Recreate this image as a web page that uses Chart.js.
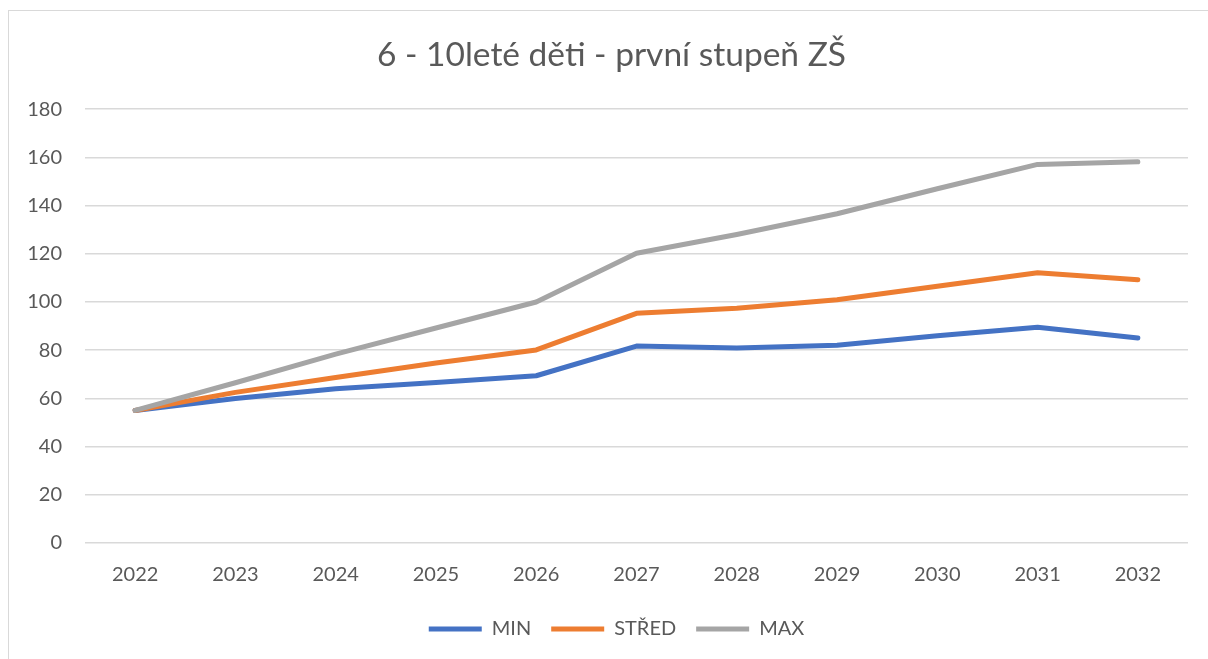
<!DOCTYPE html>
<html>
<head>
<meta charset="utf-8">
<script src="https://cdn.jsdelivr.net/npm/chart.js@4"></script>
<style>
    html, body { margin: 0; padding: 0; background: #fff; }
    body { width: 1208px; height: 659px; overflow: hidden; position: relative; }
    #frame {
        position: absolute; left: 8px; top: 10px; width: 1200px; height: 649px;
        border-top: 1px solid #d9d9d9; border-left: 1px solid #d9d9d9;
    }
    #wrap { position: absolute; left: 0; top: 0; width: 1199px; height: 648px; }
</style>
</head>
<body>
<div id="frame"><div id="wrap"><canvas id="LineChart"></canvas></div></div>
<script>
var years = ['2022', '2023', '2024', '2025', '2026', '2027', '2028', '2029', '2030', '2031', '2032'];
var minValues = [55, 60, 64, 66.6, 69.4, 81.7, 80.9, 82.1, 86, 89.5, 85.1];
var midValues = [55, 62.5, 68.7, 74.7, 80.1, 95.3, 97.4, 100.9, 106.5, 112.1, 109.2];
var maxValues = [55, 66.5, 78.4, 89.2, 100, 120.2, 128, 136.6, 147, 157.1, 158.2];
var chartTitle = '6 - 10leté děti - první stupeň ZŠ';

var textColor = '#595959';
var font = 'Lato, "Open Sans", sans-serif';

function series(label, data, color, order) {
    return {
        label: label,
        data: data,
        borderColor: color,
        backgroundColor: color,
        borderWidth: 5,
        borderCapStyle: 'round',
        borderJoinStyle: 'round',
        pointRadius: 0,
        pointStyle: 'line',
        tension: 0,
        order: order
    };
}

// title and legend sit a bit right of the canvas centre in the original
var shiftBlocks = {
    id: 'shiftBlocks',
    afterLayout: function (chart) {
        chart.titleBlock.left += 13;
        chart.titleBlock.right += 13;
        chart.legend.left += 18;
        chart.legend.right += 18;
    }
};

var ctx = document.getElementById('LineChart').getContext('2d');
var myLineChart = new Chart(ctx, {
    type: 'line',
    data: {
        labels: years,
        datasets: [
            series('MIN', minValues, '#4472C4', 3),
            series('STŘED', midValues, '#ED7D31', 2),
            series('MAX', maxValues, '#A5A5A5', 1)
        ]
    },
    plugins: [shiftBlocks],
    options: {
        responsive: true,
        maintainAspectRatio: false,
        animation: false,
        layout: { padding: { left: 0, right: 20, top: 0, bottom: 10 } },
        plugins: {
            title: {
                display: true,
                text: chartTitle,
                color: textColor,
                font: { family: font, size: 33.5, weight: 'normal' },
                padding: { top: 24, bottom: 34 }
            },
            legend: {
                position: 'bottom',
                labels: {
                    color: textColor,
                    font: { family: font, size: 20 },
                    usePointStyle: true,
                    pointStyle: 'line',
                    pointStyleWidth: 53,
                    boxHeight: 20,
                    padding: 20,
                    sort: function (a, b) { return a.datasetIndex - b.datasetIndex; }
                }
            },
            tooltip: { enabled: false }
        },
        scales: {
            x: {
                offset: true,
                grid: { display: false },
                border: { display: false },
                ticks: {
                    color: textColor,
                    font: { family: font, size: 20 },
                    padding: 12,
                    maxRotation: 0
                },
                afterFit: function (scale) { scale.height = 56; }
            },
            y: {
                min: 0,
                max: 180,
                border: { display: false },
                grid: { color: '#d9d9d9', lineWidth: 1.5, drawTicks: false },
                ticks: {
                    stepSize: 20,
                    color: textColor,
                    font: { family: font, size: 20 },
                    padding: 23
                },
                afterFit: function (scale) { scale.width = 76; }
            }
        }
    }
});
</script>
</body>
</html>
